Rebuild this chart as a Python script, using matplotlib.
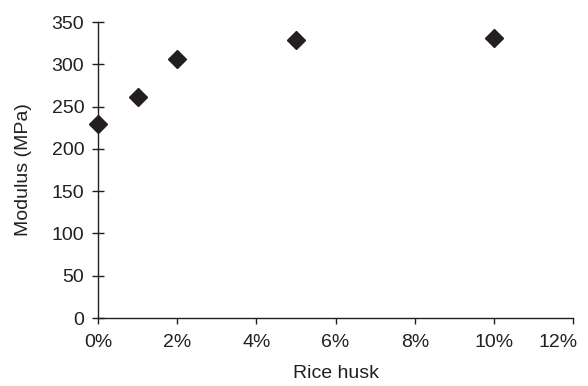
import matplotlib
matplotlib.use('Agg')
import matplotlib.pyplot as plt
from matplotlib.ticker import FuncFormatter
from matplotlib.transforms import ScaledTranslation

plt.rcParams['font.family'] = ['Liberation Sans', 'DejaVu Sans']

husk = [0, 1, 2, 5, 10]          # rice husk content (%)
modulus = [230, 261, 306, 329, 331]  # modulus (MPa)

ink = '#231f20'
fs = 14

fig = plt.figure(figsize=(5.88, 3.86), dpi=100)
ax = fig.add_axes([0.1667, 0.176, 0.808, 0.767])

ax.plot(husk, modulus, linestyle='none', marker='D', markersize=9.3,
        color=ink, clip_on=False)

ax.set_xlim(0, 12)
ax.set_ylim(0, 350)
ax.set_xticks(range(0, 13, 2))
ax.set_yticks(range(0, 351, 50))
ax.xaxis.set_major_formatter(FuncFormatter(lambda v, p: '%d%%' % v))

for s in ['top', 'right']:
    ax.spines[s].set_visible(False)
for s in ['left', 'bottom']:
    ax.spines[s].set_color(ink)
    ax.spines[s].set_linewidth(1.0)

ax.tick_params(axis='x', direction='out', length=4.5, width=1.0, color=ink,
               labelsize=fs, labelcolor=ink, pad=7)
ax.tick_params(axis='y', direction='inout', length=8, width=1.0, color=ink,
               labelsize=fs, labelcolor=ink, pad=6)

# last tick label is nudged left so it stays inside the figure
fig.canvas.draw()
last = ax.get_xticklabels()[-1]
last.set_transform(last.get_transform() + ScaledTranslation(-0.15, 0, fig.dpi_scale_trans))

ax.set_xlabel('Rice husk', fontsize=fs, color=ink, labelpad=10)
ax.set_ylabel('Modulus (MPa)', fontsize=fs, color=ink, labelpad=14)

fig.savefig('out.png', dpi=100)
